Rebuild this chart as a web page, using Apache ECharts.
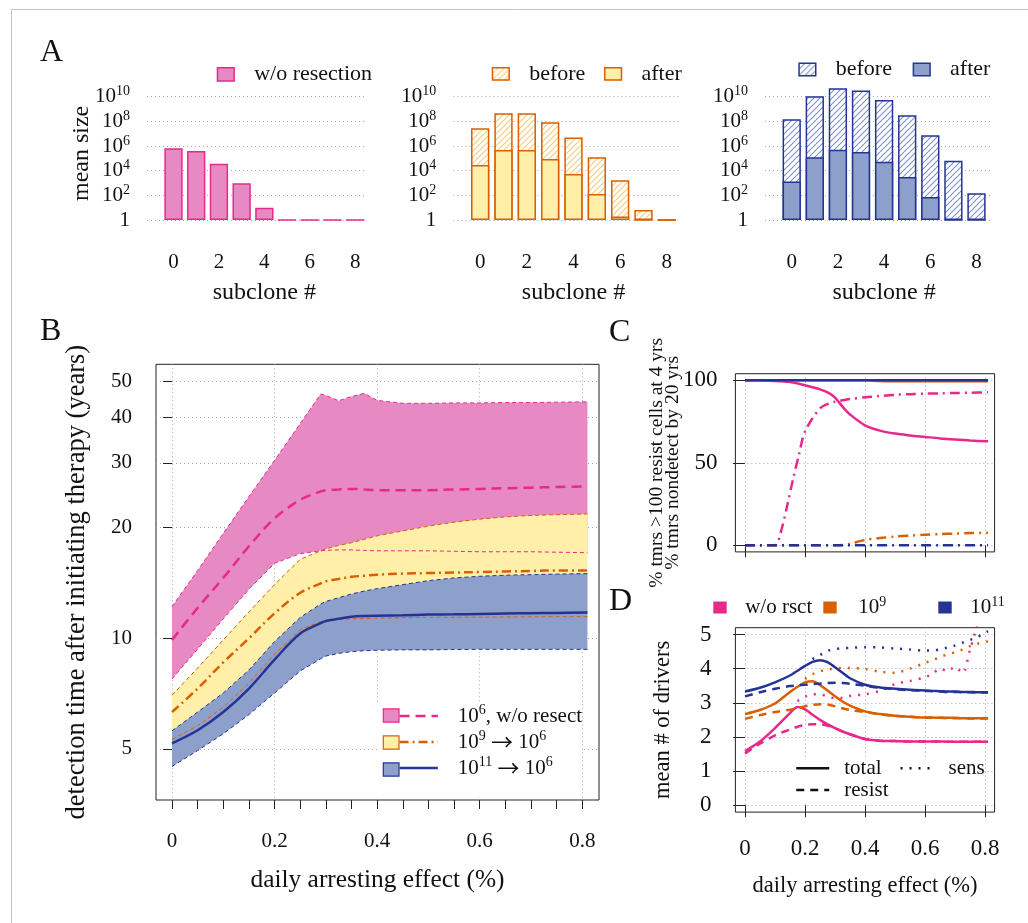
<!DOCTYPE html>
<html><head><meta charset="utf-8">
<script src="https://cdn.jsdelivr.net/npm/echarts@6/dist/echarts.min.js"></script>
<style>html,body{margin:0;padding:0;background:#fff}#c{width:1028px;height:923px}</style>
</head><body><div id="c"></div>
<script>
const FONT = '"Liberation Serif", "Times New Roman", serif';
const INK = '#111';
const PINK = '#E7298A', PINK_F = '#E78AC3', ORANGE = '#D95F02', YELLOW_F = '#FFEFA8', BLUE = '#253494', BLUE_F = '#8DA0CB';

// ---------------- Panel A : mean subclone sizes ----------------
const subclones = ['0','1','2','3','4','5','6','7','8'];
const sizeNoResect = [6.5e5, 3.9e5, 3.7e4, 940, 10, 1, 1, 1, 1];
const size9Before  = [2.7e7, 4.5e8, 4.5e8, 8.3e7, 5e6, 1.2e5, 1.7e3, 6.5, 1];
const size9After   = [2.9e4, 4.7e5, 4.7e5, 8.9e4, 5.4e3, 128, 1.9, 1, 1];
const size11Before = [1.45e8, 1.1e10, 4.8e10, 3.1e10, 5.4e9, 3.1e8, 7.3e6, 6.5e4, 145];
const size11After  = [1.3e3, 1.2e5, 5e5, 3.3e5, 5.4e4, 3.1e3, 73, 1, 1];
const sizeTickExps = [0, 2, 4, 6, 8, 10];

// ---------------- Panel B : detection time (years) ----------------
const effectB = [0,0.05,0.1,0.15,0.2,0.25,0.29,0.3,0.325,0.35,0.375,0.4,0.45,0.5,0.55,0.6,0.65,0.7,0.75,0.81];
const det6Lo  = [7.75,9.35,11.3,13.6,16.0,17.0,17.3,17.35,17.4,17.4,17.35,17.3,17.3,17.3,17.25,17.2,17.2,17.2,17.15,17.1];
const det6Mid = [9.9,12.1,14.6,17.8,21.2,23.8,25.1,25.3,25.4,25.5,25.4,25.3,25.3,25.3,25.4,25.5,25.6,25.7,25.8,25.9];
const det6Hi  = [12.2,15.3,19.3,24.3,30.5,38.4,46.2,45.8,44.3,45.5,46.4,44.4,43.6,43.6,43.7,43.7,43.8,43.8,43.9,44.0];
const det9Lo  = [5.31,5.78,6.5,7.55,9.05,10.55,11.1,11.15,11.25,11.3,11.32,11.35,11.38,11.4,11.41,11.42,11.43,11.44,11.45,11.45];
const det9Mid = [6.3,7.3,8.6,10.0,11.7,13.3,14.1,14.3,14.5,14.7,14.8,14.9,15.0,15.05,15.1,15.15,15.2,15.25,15.3,15.3];
const det9Hi  = [7.0,8.3,9.9,11.8,14.0,16.4,17.3,17.5,17.9,18.2,18.6,19.0,19.6,20.2,20.7,21.1,21.4,21.6,21.7,21.8];
const det11Lo  = [4.48,4.95,5.5,6.2,7.1,8.15,8.8,8.95,9.1,9.2,9.25,9.28,9.3,9.3,9.32,9.33,9.33,9.33,9.33,9.33];
const det11Mid = [5.18,5.62,6.3,7.3,8.75,10.3,11.0,11.15,11.3,11.45,11.5,11.52,11.55,11.6,11.62,11.65,11.68,11.7,11.72,11.75];
const det11Hi  = [5.6,6.3,7.1,8.2,9.8,11.4,12.4,12.6,12.9,13.2,13.45,13.65,14.0,14.35,14.6,14.75,14.85,14.9,14.95,15.0];
const detTicks = [5, 10, 20, 30, 40, 50];
const effectTicks = [0, 0.2, 0.4, 0.6, 0.8];
const effectMinorTicks = [0,0.05,0.1,0.15,0.2,0.25,0.3,0.35,0.4,0.45,0.5,0.55,0.6,0.65,0.7,0.75,0.8];

// ---------------- Panel C : percentages ----------------
const effectC = [0,0.05,0.1,0.12,0.14,0.16,0.18,0.2,0.25,0.28,0.3,0.33,0.35,0.4,0.45,0.5,0.55,0.6,0.65,0.7,0.75,0.81];
const resist6    = [100,100,99.6,99.4,99.1,98.6,97.9,97.0,94.5,92.2,89.5,83,79.3,72.7,69.5,67.7,66.6,65.7,64.8,64.1,63.5,63.0];
const nondetect6 = [0,0,0,8.5,23.5,40,55,69,83,86,87,88,88.6,89.7,90.5,91.2,91.6,91.9,92.1,92.3,92.5,92.7];
const resist9    = [100,100,100,100,100,100,100,100,100,100,100,100,100,100,99.6,99.4,99.4,99.4,99.4,99.4,99.4,99.4];
const nondetect9 = [0,0,0,0,0,0,0,0,0,0,0,0.3,1.0,3.2,4.4,5.3,5.9,6.4,6.8,7.1,7.4,7.6];
const resist11    = [100,100,100,100,100,100,100,100,100,100,100,100,100,100,100,100,100,100,100,100,100,100];
const nondetect11 = [0,0,0,0,0,0,0,0,0,0,0,0,0,0,0,0,0,0,0,0,0,0];
const pctTicks = [0, 50, 100];

// ---------------- Panel D : mean # of drivers ----------------
const effectD = [0,0.05,0.1,0.15,0.175,0.2,0.225,0.25,0.275,0.3,0.325,0.35,0.4,0.45,0.5,0.55,0.6,0.625,0.65,0.675,0.7,0.725,0.75,0.775,0.81];
const pinkTotal   = [1.59,1.87,2.26,2.7,2.88,2.81,2.65,2.5,2.37,2.26,2.16,2.08,1.94,1.89,1.88,1.87,1.87,1.87,1.87,1.86,1.86,1.86,1.86,1.86,1.86];
const pinkResist  = [1.52,1.8,2.05,2.22,2.3,2.35,2.37,2.37,2.33,2.26,2.16,2.08,1.94,1.89,1.88,1.87,1.87,1.87,1.87,1.86,1.86,1.86,1.86,1.86,1.86];
const pinkSens    = [null,null,null,null,3.05,3.18,3.25,3.25,3.18,3.14,3.14,3.2,3.25,3.35,3.55,3.64,3.75,3.85,4.0,3.93,4.05,3.87,4.55,5.3,null];
const orangeTotal  = [2.67,2.79,2.98,3.32,3.47,3.6,3.63,3.52,3.36,3.19,3.04,2.92,2.75,2.67,2.62,2.59,2.57,2.57,2.56,2.56,2.56,2.55,2.55,2.55,2.55];
const orangeResist = [2.53,2.64,2.73,2.8,2.84,2.9,2.94,2.96,2.95,2.9,2.84,2.79,2.73,2.66,2.62,2.59,2.57,2.56,2.56,2.55,2.55,2.55,2.54,2.54,2.54];
const orangeSens   = [null,null,null,null,null,3.7,3.84,3.92,3.98,4.0,4.02,4.02,3.99,3.91,3.88,4.0,4.17,4.25,4.34,4.42,4.48,4.56,4.66,4.73,4.8];
const blueTotal  = [3.33,3.44,3.6,3.8,3.94,4.08,4.2,4.25,4.19,4.04,3.88,3.72,3.53,3.45,3.41,3.38,3.36,3.35,3.34,3.33,3.33,3.32,3.32,3.31,3.31];
const blueResist = [3.19,3.31,3.41,3.49,3.51,3.53,3.55,3.56,3.58,3.59,3.58,3.56,3.5,3.44,3.4,3.37,3.35,3.34,3.33,3.32,3.32,3.31,3.31,3.30,3.30];
const blueSens   = [null,null,null,null,null,null,4.28,4.4,4.52,4.57,4.6,4.61,4.63,4.62,4.59,4.56,4.53,4.53,4.57,4.62,4.68,4.76,4.84,4.93,5.1];
const driverTicks = [0, 1, 2, 3, 4, 5];

// ---------------- helpers ----------------
const lg = v => (v == null ? null : Math.log10(v));
const pairs = (xs, ys, f) => xs.map((x, i) => [x, f ? f(ys[i]) : ys[i]]).filter(p => p[1] != null);

function hatch(color) {
  const c = document.createElement('canvas');
  c.width = 6; c.height = 6;
  const g = c.getContext('2d');
  g.fillStyle = '#fff'; g.fillRect(0, 0, 6, 6);
  g.strokeStyle = color; g.lineWidth = 1.1;
  g.beginPath();
  g.moveTo(0, 6); g.lineTo(6, 0);
  g.moveTo(-1, 1); g.lineTo(1, -1);
  g.moveTo(5, 7); g.lineTo(7, 5);
  g.stroke();
  return { image: c, repeat: 'repeat' };
}

const supRich = (size, lh) => ({
  t: { fontSize: size, fontFamily: FONT, color: INK, lineHeight: lh },
  s: { fontSize: Math.round(size * 0.68), fontFamily: FONT, color: INK, lineHeight: Math.round(size * 0.68), verticalAlign: 'top' },
  a: { fontSize: size + 1, fontFamily: '"Noto Sans CJK JP", "Noto Sans CJK SC", sans-serif', color: INK, lineHeight: lh }
});
const expLabel = v => (Math.abs(v) < 1e-9 ? '{t|1}' : '{t|10}{s|' + Math.round(v) + '}');
const dotted = { color: '#a8a8a8', width: 1, type: [1, 3] };

// ---------------- grids ----------------
const aTop = 86.8, aH = 133.2;
const grids = [
  { left: 147, top: aTop, width: 220, height: aH },        // 0 A1 background
  { left: 162.15, top: aTop, width: 204.4, height: aH },   // 1 A1 bars
  { left: 453.3, top: aTop, width: 226.7, height: aH },    // 2 A2 background
  { left: 468.5, top: aTop, width: 210, height: aH },      // 3 A2 bars
  { left: 765, top: aTop, width: 226.7, height: aH },      // 4 A3 background
  { left: 780.15, top: aTop, width: 207.9, height: aH },   // 5 A3 bars
  { left: 156, top: 364.3, width: 443, height: 435.7, show: true, borderColor: '#222', borderWidth: 1 }, // 6 B
  { left: 735.4, top: 373.7, width: 259.2, height: 178.2, show: true, borderColor: '#222', borderWidth: 1 }, // 7 C
  { left: 735.4, top: 627.7, width: 259.2, height: 184.4, show: true, borderColor: '#222', borderWidth: 1 }  // 8 D
].map(g => Object.assign({ outerBoundsMode: 'none', containLabel: false }, g));

// ---------------- axes ----------------
const xAxes = [], yAxes = [];
[0, 2, 4].forEach((g, k) => {
  xAxes.push({ gridIndex: g, type: 'value', min: 0, max: 1, show: false });
  xAxes.push({
    gridIndex: g + 1, type: 'category', data: subclones,
    axisLine: { show: false }, axisTick: { show: false },
    axisLabel: { interval: 1, margin: 31.5, fontSize: 21, fontFamily: FONT, color: INK },
    name: 'subclone #', nameLocation: 'middle', nameGap: 61, nameMoveOverlap: false,
    nameTextStyle: { fontSize: 24, fontFamily: FONT, color: INK }
  });
  const bgY = {
    gridIndex: g, type: 'value', min: 0, max: 10.8,
    axisLine: { show: false },
    axisTick: { show: false, customValues: sizeTickExps },
    axisLabel: { customValues: sizeTickExps, formatter: expLabel, margin: 17, rich: supRich(21, 24), fontFamily: FONT, color: INK },
    splitLine: { show: true, lineStyle: dotted }
  };
  if (k === 0) Object.assign(bgY, {
    name: 'mean size', nameLocation: 'middle', nameGap: 53, nameMoveOverlap: false,
    nameTextStyle: { fontSize: 24, fontFamily: FONT, color: INK }
  });
  yAxes.push(bgY);
  yAxes.push({ gridIndex: g + 1, type: 'value', min: 0, max: 10.8, show: false });
});
// B axes
xAxes.push({
  gridIndex: 6, type: 'value', min: -0.0312, max: 0.8325,
  axisLine: { show: false },
  axisTick: { show: true, customValues: effectMinorTicks, length: 9, lineStyle: { color: '#222', width: 1 } },
  axisLabel: { customValues: effectTicks, formatter: v => String(Math.round(v * 10) / 10), margin: 31, fontSize: 21, fontFamily: FONT, color: INK },
  splitLine: { show: false },
  name: 'daily arresting effect (%)', nameLocation: 'middle', nameGap: 68, nameMoveOverlap: false,
  nameTextStyle: { fontSize: 25.4, fontFamily: FONT, color: INK }
});
xAxes.push({
  gridIndex: 6, type: 'value', min: -0.0312, max: 0.8325, position: 'bottom',
  axisLine: { show: false }, axisTick: { show: false, customValues: effectTicks }, axisLabel: { show: false },
  splitLine: { show: true, lineStyle: dotted }
});
const detTickLogs = detTicks.map(lg);
yAxes.push({
  gridIndex: 6, type: 'value', min: 0.56, max: 1.7456,
  axisLine: { show: false },
  axisTick: { show: true, customValues: detTickLogs, length: 9, lineStyle: { color: '#222', width: 1 } },
  axisLabel: { customValues: detTickLogs, formatter: v => String(Math.round(Math.pow(10, v))), margin: 24, fontSize: 21, fontFamily: FONT, color: INK },
  splitLine: { show: true, lineStyle: dotted },
  name: 'detection time after initiating therapy (years)', nameLocation: 'middle', nameGap: 65, nameMoveOverlap: false,
  nameTextStyle: { fontSize: 26.5, fontFamily: FONT, color: INK }
});
// C axes
xAxes.push({
  gridIndex: 7, type: 'value', min: -0.032, max: 0.832,
  axisLine: { show: false },
  axisTick: { show: true, customValues: effectTicks, length: 12, lineStyle: { color: '#222', width: 1 } },
  axisLabel: { show: false, customValues: effectTicks },
  splitLine: { show: true, lineStyle: dotted }
});
yAxes.push({
  gridIndex: 7, type: 'value', min: -4, max: 104,
  axisLine: { show: false },
  axisTick: { show: true, customValues: pctTicks, length: 12, lineStyle: { color: '#222', width: 1 } },
  axisLabel: { customValues: pctTicks, margin: 18, fontSize: 23, fontFamily: FONT, color: INK },
  splitLine: { show: true, lineStyle: dotted },
  name: '% tmrs >100 resist cells at 4 yrs\n% tmrs nondetect by 20 yrs', nameLocation: 'middle', nameGap: 55, nameMoveOverlap: false,
  nameTextStyle: { fontSize: 19.5, lineHeight: 16, fontFamily: FONT, color: INK }
});
// D axes
xAxes.push({
  gridIndex: 8, type: 'value', min: -0.032, max: 0.832,
  axisLine: { show: false },
  axisTick: { show: true, customValues: effectTicks, length: 12, lineStyle: { color: '#222', width: 1 } },
  axisLabel: { customValues: effectTicks, formatter: v => String(Math.round(v * 10) / 10), margin: 25, fontSize: 23, fontFamily: FONT, color: INK },
  splitLine: { show: true, lineStyle: dotted },
  name: 'daily arresting effect (%)', nameLocation: 'middle', nameGap: 62, nameMoveOverlap: false,
  nameTextStyle: { fontSize: 22.5, fontFamily: FONT, color: INK }
});
yAxes.push({
  gridIndex: 8, type: 'value', min: -0.2, max: 5.2,
  axisLine: { show: false },
  axisTick: { show: true, customValues: driverTicks, length: 12, lineStyle: { color: '#222', width: 1 } },
  axisLabel: { customValues: driverTicks, margin: 24, fontSize: 23, fontFamily: FONT, color: INK },
  splitLine: { show: true, lineStyle: dotted },
  name: 'mean # of drivers', nameLocation: 'middle', nameGap: 61, nameMoveOverlap: false,
  nameTextStyle: { fontSize: 22.5, fontFamily: FONT, color: INK }
});

// ---------------- series ----------------
const series = [];
const bar = (name, xi, vals, color, border) => ({
  type: 'bar', name, xAxisIndex: xi, yAxisIndex: xi, data: vals.map(lg),
  barWidth: 18.3, barGap: '-100%', itemStyle: { color, borderColor: border, borderWidth: 1.5 }
});
series.push(bar('w/o resection', 1, sizeNoResect, PINK_F, PINK));
series.push(bar('before (10^9)', 3, size9Before, hatch('#F0CF7A'), ORANGE));
series.push(bar('after (10^9)', 3, size9After, YELLOW_F, ORANGE));
series.push(bar('before (10^11)', 5, size11Before, hatch('#7F93C6'), BLUE));
series.push(bar('after (10^11)', 5, size11After, BLUE_F, BLUE));

// B: shaded bands between lower and upper curves (log10 values, placed through the axes)
function band(name, lo, hi, fill) {
  return {
    type: 'custom', name, xAxisIndex: 6, yAxisIndex: 6, silent: true, color: fill,
    itemStyle: { color: fill },
    data: effectB.map((x, i) => [x, lg(lo[i]), lg(hi[i])]),
    encode: { x: 0, y: [1, 2] },
    renderItem: (params, api) => {
      if (params.dataIndex !== 0) return null;
      const up = [], dn = [];
      for (let i = 0; i < effectB.length; i++) {
        up.push(api.coord([effectB[i], lg(hi[i])]));
        dn.push(api.coord([effectB[i], lg(lo[i])]));
      }
      return { type: 'polygon', shape: { points: up.concat(dn.reverse()) }, style: { fill: fill, stroke: null } };
    }
  };
}
series.push(band('band6', det6Lo, det6Hi, PINK_F), band('band9', det9Lo, det9Hi, YELLOW_F), band('band11', det11Lo, det11Hi, BLUE_F));
const thinB = (ys, color) => ({
  type: 'line', xAxisIndex: 6, yAxisIndex: 6, symbol: 'none', silent: true, color,
  data: pairs(effectB, ys, lg), lineStyle: { color, width: 1, type: [4, 3] }
});
series.push(thinB(det6Hi, PINK), thinB(det6Lo, PINK), thinB(det9Hi, ORANGE), thinB(det9Lo, ORANGE), thinB(det11Hi, BLUE), thinB(det11Lo, BLUE));
const medB = (name, ys, color, type) => ({
  type: 'line', name, xAxisIndex: 6, yAxisIndex: 6, symbol: 'none', silent: true, color, smooth: 0.35,
  data: pairs(effectB, ys, lg), lineStyle: { color, width: 2.5, type }
});
series.push(medB('m6', det6Mid, PINK, [10, 6]), medB('m9', det9Mid, ORANGE, [9, 4, 2, 4]), medB('m11', det11Mid, BLUE, 'solid'));

// C
const lineC = (ys, color, type) => ({
  type: 'line', xAxisIndex: 8, yAxisIndex: 7, symbol: 'none', silent: true, color, smooth: 0.3,
  data: pairs(effectC, ys), lineStyle: { color, width: 2.5, type }
});
const DD = [10, 5, 2, 5];
series.push(lineC(resist6, PINK, 'solid'), lineC(resist9, ORANGE, 'solid'), lineC(resist11, BLUE, 'solid'));
series.push(lineC(nondetect6, PINK, DD), lineC(nondetect9, ORANGE, DD), lineC(nondetect11, BLUE, DD));

// D
const DASH = [8, 6], DOT = [2, 7];
const lineD = (name, ys, color, type) => ({
  type: 'line', name, xAxisIndex: 9, yAxisIndex: 8, symbol: 'none', silent: true, color, smooth: 0.3,
  data: pairs(effectD, ys), lineStyle: { color, width: 2.5, type }
});
series.push(
  lineD('w/o rsct', pinkTotal, PINK, 'solid'), lineD('w/o rsct', pinkResist, PINK, DASH), lineD('w/o rsct', pinkSens, PINK, DOT),
  lineD('1e9', orangeTotal, ORANGE, 'solid'), lineD('1e9', orangeResist, ORANGE, DASH), lineD('1e9', orangeSens, ORANGE, DOT),
  lineD('1e11', blueTotal, BLUE, 'solid'), lineD('1e11', blueResist, BLUE, DASH), lineD('1e11', blueSens, BLUE, DOT)
);
// legend keys for line types in D (no data)
series.push(
  { type: 'line', name: 'total', xAxisIndex: 9, yAxisIndex: 8, data: [], symbol: 'none', color: INK, lineStyle: { color: INK, width: 2.5, type: 'solid' } },
  { type: 'line', name: 'resist', xAxisIndex: 9, yAxisIndex: 8, data: [], symbol: 'none', color: INK, lineStyle: { color: INK, width: 2.5, type: DASH } },
  { type: 'line', name: 'sens', xAxisIndex: 9, yAxisIndex: 8, data: [], symbol: 'none', color: INK, lineStyle: { color: INK, width: 2.5, type: DOT } }
);

// ---------------- legends ----------------
const legText = (size, lh, extra) => Object.assign({ fontSize: size, lineHeight: lh, fontFamily: FONT, color: INK }, extra || {});
const dKey = (name, left, pad) => ({
  data: [name], left, top: 595.5, padding: 0, icon: 'rect', itemWidth: 13.4, itemHeight: 12,
  itemStyle: { borderWidth: 0 },
  formatter: n => ({ 'w/o rsct': '{t|w/o rsct}', '1e9': '{t|10}{s|9}', '1e11': '{t|10}{s|11}' }[n]),
  textStyle: legText(21, 24, { padding: [0, 0, 0, pad], rich: supRich(21, 24) }), selectedMode: false
});
const legends = [
  { data: ['w/o resection'], left: 216.7, top: 62.3, padding: 0, icon: 'rect', itemWidth: 16.7, itemHeight: 13.3,
    itemStyle: { borderWidth: 1.5 }, textStyle: legText(22, 24, { padding: [0, 0, 0, 15] }), selectedMode: false },
  { data: ['before (10^9)', 'after (10^9)'], left: 491.7, top: 61.8, padding: 0, icon: 'rect', itemWidth: 16.7, itemHeight: 12.3, itemGap: 18.7,
    itemStyle: { borderWidth: 1.5 }, formatter: n => n.split(' ')[0], textStyle: legText(22, 24, { padding: [0, 0, 0, 15] }), selectedMode: false },
  { data: ['before (10^11)', 'after (10^11)'], left: 798.3, top: 57.5, padding: 0, icon: 'rect', itemWidth: 16.7, itemHeight: 12.4, itemGap: 20.7,
    itemStyle: { borderWidth: 1.5 }, formatter: n => n.split(' ')[0], textStyle: legText(22, 24, { padding: [0, 0, 0, 15] }), selectedMode: false },
  // B: filled boxes (with white legend background)
  { data: [
      { name: 'band6', itemStyle: { color: PINK_F, borderColor: PINK, borderWidth: 1.2 } },
      { name: 'band9', itemStyle: { color: YELLOW_F, borderColor: ORANGE, borderWidth: 1.2 } },
      { name: 'band11', itemStyle: { color: BLUE_F, borderColor: BLUE, borderWidth: 1.2 } }],
    orient: 'vertical', left: 377, top: 703, padding: [5.3, 178, 20, 5.7], icon: 'rect', itemWidth: 15.7, itemHeight: 13.3, itemGap: 12.5,
    formatter: () => '', textStyle: { fontSize: 1, lineHeight: 1 }, backgroundColor: '#fff', z: 3, selectedMode: false },
  // B: line samples with text
  { data: ['m6', 'm9', 'm11'], orient: 'vertical', left: 398.3, top: 703, padding: 0, itemWidth: 38.3, itemHeight: 13.3, itemGap: 0,
    itemStyle: { opacity: 0 }, lineStyle: { width: 2.5 },
    formatter: n => ({ m6: '{t|10}{s|6}{t|, w/o resect}', m9: '{t|10}{s|9}{t| }{a|\u2192}{t| 10}{s|6}', m11: '{t|10}{s|11}{t| }{a|\u2192}{t| 10}{s|6}' }[n]),
    textStyle: legText(21, 26, { padding: [0, 0, 0, 15], rich: supRich(21, 26) }), z: 4, selectedMode: false },
  // D: colour keys
  dKey('w/o rsct', 713.3, 13.5), dKey('1e9', 823.3, 16.6), dKey('1e11', 938.3, 13.5),
  // D: line type keys
  { data: ['total', 'sens'], left: 795, top: 757.3, padding: 0, itemWidth: 33, itemHeight: 12, itemGap: 17.7,
    itemStyle: { opacity: 0 }, lineStyle: { width: 2.5 }, textStyle: legText(21, 22, { padding: [0, 0, 0, 10] }), z: 4, selectedMode: false },
  { data: ['resist'], left: 792, top: 757, padding: [22, 89, 0, 3], itemWidth: 33, itemHeight: 12,
    itemStyle: { opacity: 0 }, lineStyle: { width: 2.5 }, textStyle: legText(21, 22, { padding: [0, 0, 0, 10] }),
    backgroundColor: '#fff', z: 3, selectedMode: false }
];

// ---------------- decorations: panel letters, figure frame ----------------
const letter = (t, x, y) => ({
  type: 'text', x, y, silent: true,
  style: { text: t, font: '32px ' + FONT, fill: INK, align: 'left', verticalAlign: 'middle', textAlign: 'left', textVerticalAlign: 'middle' }
});
const graphic = [
  { type: 'line', silent: true, shape: { x1: 11.5, y1: 9.5, x2: 1028, y2: 9.5 }, style: { stroke: '#c4c4c4', lineWidth: 1 } },
  { type: 'line', silent: true, shape: { x1: 11.5, y1: 9.5, x2: 11.5, y2: 923 }, style: { stroke: '#c4c4c4', lineWidth: 1 } },
  letter('A', 40, 53), letter('B', 40, 332), letter('C', 609, 333), letter('D', 609, 602)
];

const chart = echarts.init(document.getElementById('c'), null, { renderer: 'canvas', width: 1028, height: 923 });
chart.setOption({
  animation: false,
  backgroundColor: '#fff',
  textStyle: { fontFamily: FONT, color: INK },
  grid: grids, xAxis: xAxes, yAxis: yAxes,
  legend: legends, series, graphic
});
</script>
</body></html>
